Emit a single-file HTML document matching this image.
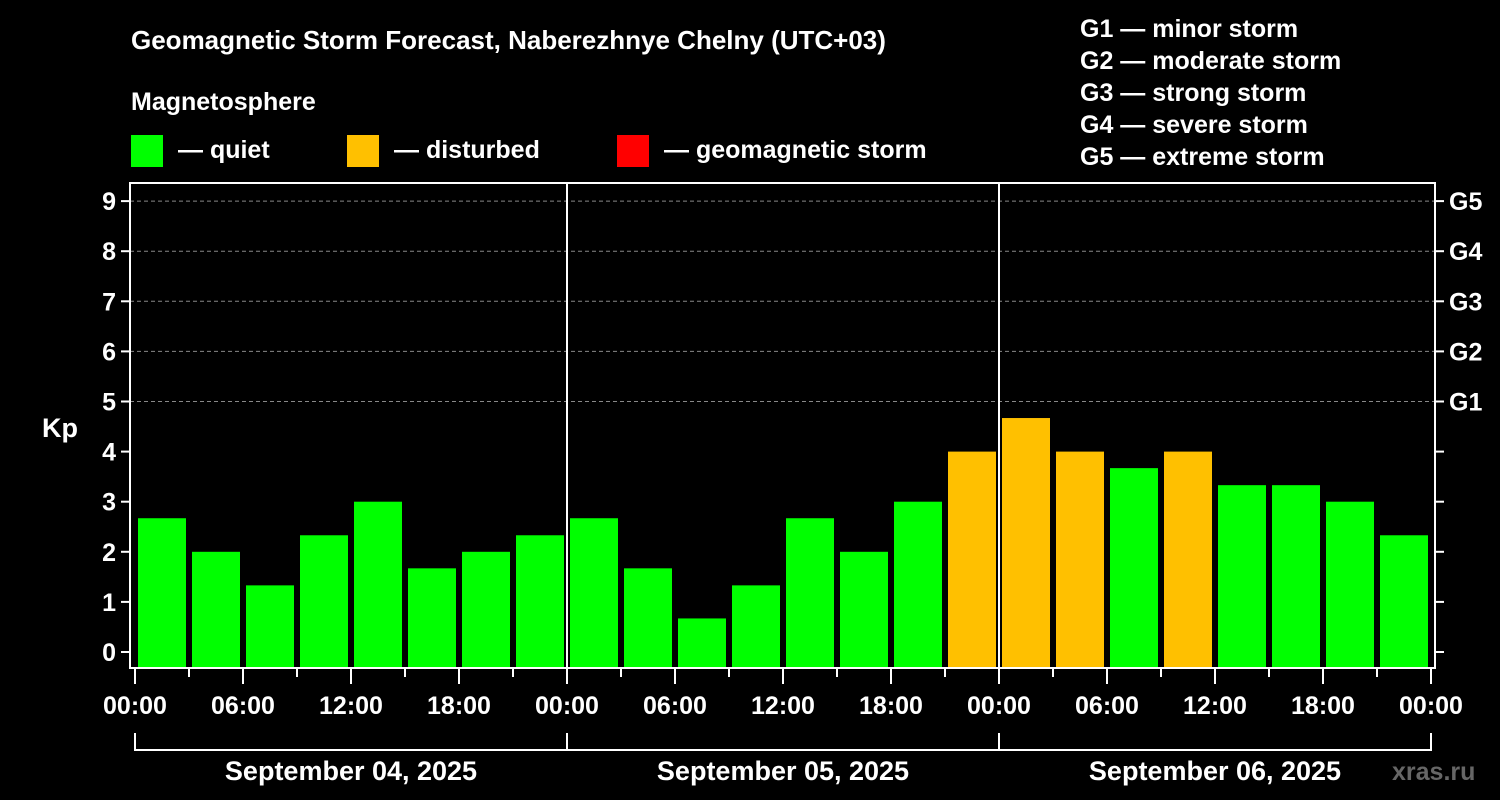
<!DOCTYPE html>
<html><head><meta charset="utf-8"><style>
body{margin:0;background:#000;}
svg{display:block;font-family:"Liberation Sans",Arial,sans-serif;font-weight:bold;}
</style></head><body>
<svg width="1500" height="800" viewBox="0 0 1500 800">
<rect width="1500" height="800" fill="#000"/>
<text x="131" y="49" fill="#fff" font-size="26">Geomagnetic Storm Forecast, Naberezhnye Chelny (UTC+03)</text>
<text x="131" y="110" fill="#fff" font-size="25">Magnetosphere</text>
<g><rect x="131" y="135" width="32" height="32" fill="#00ff00"/><text x="178" y="158" fill="#fff" font-size="25">— quiet</text></g>
<g><rect x="347" y="135" width="32" height="32" fill="#ffc000"/><text x="394" y="158" fill="#fff" font-size="25">— disturbed</text></g>
<g><rect x="617" y="135" width="32" height="32" fill="#ff0000"/><text x="664" y="158" fill="#fff" font-size="25">— geomagnetic storm</text></g>
<g fill="#fff" font-size="25">
<text x="1080" y="37">G1 — minor storm</text>
<text x="1080" y="69">G2 — moderate storm</text>
<text x="1080" y="101">G3 — strong storm</text>
<text x="1080" y="133">G4 — severe storm</text>
<text x="1080" y="165">G5 — extreme storm</text>
</g>
<text x="42" y="437" fill="#fff" font-size="27">Kp</text>
<text x="1392" y="780" fill="#666" font-size="25">xras.ru</text>
<g id="plot"></g>
</svg>
<script>
const kpValues=[2.67,2,1.33,2.33,3,1.67,2,2.33, 2.67,1.67,0.67,1.33,2.67,2,3,4, 4.67,4,3.67,4,3.33,3.33,3,2.33];
const yTicks=[0,1,2,3,4,5,6,7,8,9];
const gLabels=["G1","G2","G3","G4","G5"];
const gLevels=[5,6,7,8,9];
const hourLabels=["00:00","06:00","12:00","18:00"];
const dayLabels=["September 04, 2025","September 05, 2025","September 06, 2025"];
const NS="http://www.w3.org/2000/svg";
const g=document.getElementById('plot');
const x0=135, pxPerHour=18, yZero=652, pxPerKp=50.1, plotL=130, plotR=1435, plotT=183, plotB=668;
const xs=h=>x0+h*pxPerHour;
const ys=v=>yZero-v*pxPerKp;
function mk(t,a){const e=document.createElementNS(NS,t);for(const k in a)e.setAttribute(k,a[k]);g.appendChild(e);return e;}
yTicks.forEach(v=>{if(v>=5){const l=mk('line',{x1:plotL,x2:plotR,y1:ys(v),y2:ys(v),stroke:'#888','stroke-dasharray':'4,3','stroke-width':1});

}});
kpValues.forEach((v,i)=>{const r=mk('rect',{x:xs(i*3)+3,y:ys(v),width:48,height:plotB-ys(v),fill:v>=5?'#ff0000':(v>=4?'#ffc000':'#00ff00')});

});
[1,2].forEach(d=>{const l=mk('line',{x1:xs(d*24),x2:xs(d*24),y1:plotT,y2:plotB,stroke:'#fff','stroke-width':2});

});
const fr=mk('rect',{x:plotL,y:plotT,width:plotR-plotL,height:plotB-plotT,fill:'none',stroke:'#fff','stroke-width':2});


yTicks.forEach(v=>{mk('line',{x1:plotL-9,x2:plotL,y1:ys(v),y2:ys(v),stroke:'#fff','stroke-width':2});
mk('line',{x1:plotR,x2:plotR+9,y1:ys(v),y2:ys(v),stroke:'#fff','stroke-width':2});
const t=mk('text',{x:plotL-14,y:ys(v)+9,fill:'#fff','font-size':25,'text-anchor':'end'});t.textContent=v;

});
gLevels.forEach((v,i)=>{const t=mk('text',{x:1449,y:ys(v)+9,fill:'#fff','font-size':25});t.textContent=gLabels[i];

});
for(let h=0;h<=72;h+=3){const major=h%6===0;mk('line',{x1:xs(h),x2:xs(h),y1:plotB,y2:plotB+(major?16:9),stroke:'#fff','stroke-width':2});
if(major&&h%24!==0||h%24===0){const t=mk('text',{x:xs(h),y:714,fill:'#fff','font-size':25,'text-anchor':'middle'});t.textContent=hourLabels[(h%24)/6];

}}
dayLabels.forEach((d,i)=>{const a=xs(i*24),b=xs(i*24+24);
mk('polyline',{points:`${a},733 ${a},750 ${b},750 ${b},733`,fill:'none',stroke:'#fff','stroke-width':2});
const t=mk('text',{x:(a+b)/2,y:780,fill:'#fff','font-size':27,'text-anchor':'middle'});t.textContent=d;

});
</script>
</body></html>
